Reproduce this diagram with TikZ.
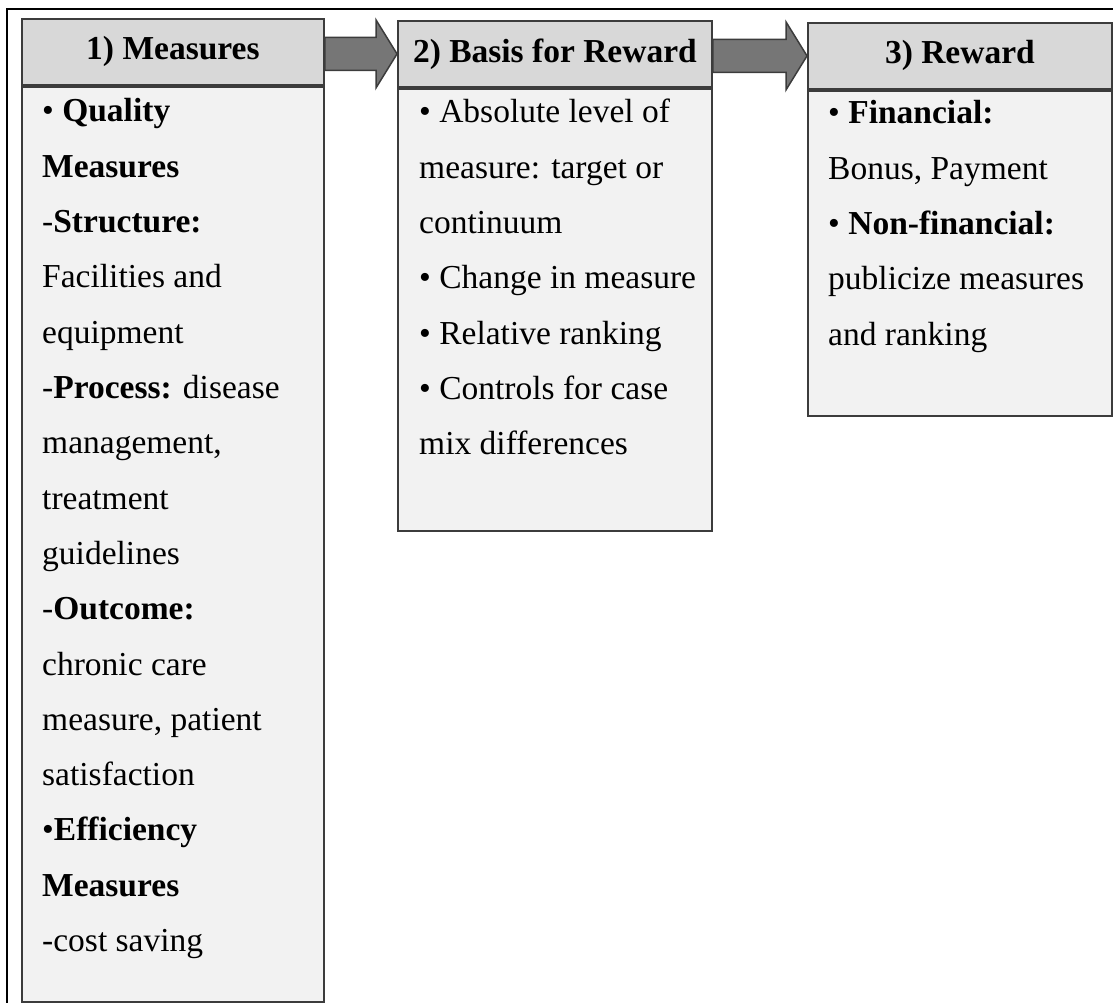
\documentclass[tikz,border=0pt]{standalone}
\usepackage{fontspec}
\setmainfont{Liberation Serif}
\usepackage{tikz}
\usetikzlibrary{positioning,calc}
\definecolor{headgray}{HTML}{D8D8D8}
\definecolor{bodygray}{HTML}{F2F2F2}
\definecolor{boxline}{HTML}{3C3C3C}
\definecolor{arrowgray}{HTML}{767676}
% block arrow from the east side of one header to the west side of the next
\newcommand{\blockarrow}[2]{%
  \draw[blk] let \p1=(#1.east), \p2=(#2.west) in
    (\x1,\y2+16.5pt) -- (\x2-21pt,\y2+16.5pt) -- (\x2-21pt,\y2+34pt) -- (\x2,\y2)
    -- (\x2-21pt,\y2-34pt) -- (\x2-21pt,\y2-16.5pt) -- (\x1,\y2-16.5pt) -- cycle;}

\begin{document}
\begin{tikzpicture}[x=1pt,y=-1pt,
  every node/.style={font=\fontsize{33.5}{55}\selectfont},
  hd/.style={draw=boxline,fill=headgray,line width=1.8pt,anchor=north west,minimum height=66,
    inner sep=0pt,font=\fontsize{33.5}{55}\selectfont\bfseries},
  bd/.style={draw=boxline,fill=bodygray,line width=1.8pt,anchor=north west,inner sep=0pt},
  tx/.style={anchor=base west,inner sep=0pt},
  blk/.style={draw=boxline,fill=arrowgray,line width=1.5pt,line join=miter}]
\useasboundingbox (0,0) rectangle (1113,1003);
\def\sy{55.3}
% frame
\draw[line width=2.6pt] (7,1003) -- (7,9) -- (1113,9);
% column 1
\node[hd,minimum width=302] (h1) at (21,18) {1) Measures};
\node[bd,minimum width=302,minimum height=915] (b1) at (h1.south west) {};
\foreach \i/\t in {
  0/{\textbullet\ \textbf{Quality}},
  1/{\textbf{Measures}},
  2/{-\textbf{Structure:}},
  3/{Facilities and},
  4/{equipment},
  5/{-\textbf{Process:} disease},
  6/{management,},
  7/{treatment},
  8/{guidelines},
  9/{-\textbf{Outcome:}},
  10/{chronic care},
  11/{measure, patient},
  12/{satisfaction},
  13/{\textbullet\textbf{Efficiency}},
  14/{\textbf{Measures}},
  15/{-cost saving}}{
    \node[tx] (m\i) at (42,{122+\i*\sy}) {\t};
}
% column 2
\node[hd,minimum width=314] (h2) at (397,20) {2) Basis for Reward};
\node[bd,minimum width=314,minimum height=442] (b2) at (h2.south west) {};
\foreach \i/\t in {
  0/{\textbullet\ Absolute level of},
  1/{measure: target or},
  2/{continuum},
  3/{\textbullet\ Change in measure},
  4/{\textbullet\ Relative ranking},
  5/{\textbullet\ Controls for case},
  6/{mix differences}}{
    \node[tx] (r\i) at (419,{123+\i*\sy}) {\t};
}
% column 3
\node[hd,minimum width=304] (h3) at (807,22) {3) Reward};
\node[bd,minimum width=304,minimum height=325] (b3) at (h3.south west) {};
\foreach \i/\t in {
  0/{\textbullet\ \textbf{Financial:}},
  1/{Bonus, Payment},
  2/{\textbullet\ \textbf{Non-financial:}},
  3/{publicize measures},
  4/{and ranking}}{
    \node[tx] (w\i) at (828,{124+\i*\sy}) {\t};
}
% arrows between the headers
\blockarrow{h1}{h2}
\blockarrow{h2}{h3}
\end{tikzpicture}
\end{document}
